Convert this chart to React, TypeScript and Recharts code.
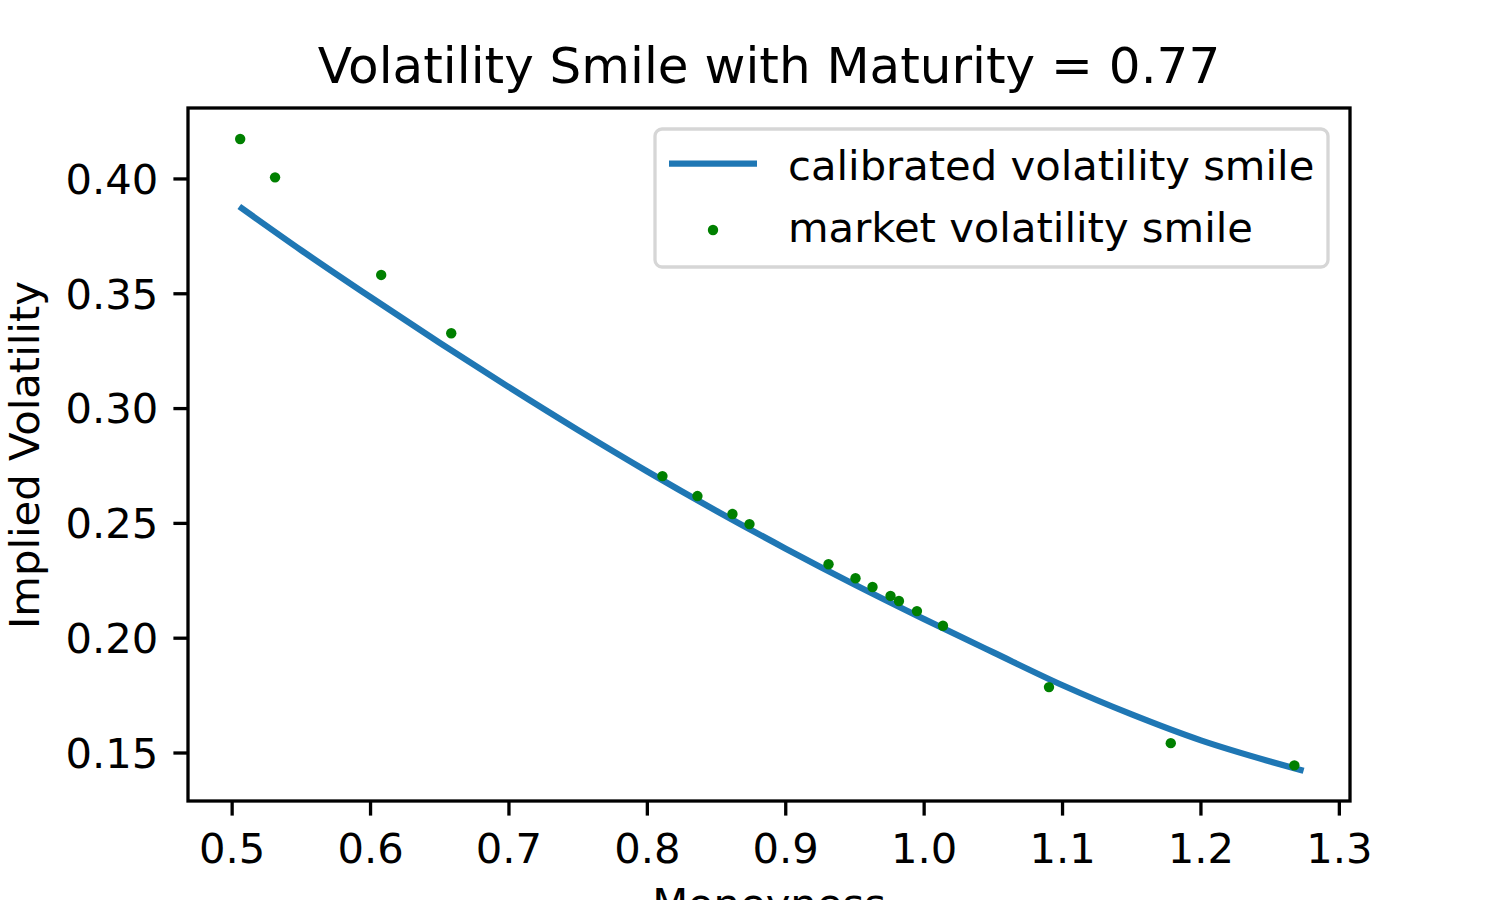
import { ComposedChart, Line, Scatter, XAxis, YAxis } from "recharts";

// market quotes (moneyness, implied vol)
const moneyness = [0.5058, 0.531, 0.6077, 0.6583, 0.8109, 0.8362, 0.8615, 0.8738, 0.9309, 0.9504, 0.9627, 0.9757, 0.9818, 0.9948, 1.0136, 1.0902, 1.1782, 1.2675];
const marketVol = [0.4174, 0.4007, 0.3582, 0.3328, 0.2706, 0.2619, 0.2541, 0.2497, 0.2322, 0.2261, 0.2223, 0.2184, 0.2162, 0.2118, 0.2054, 0.1787, 0.1543, 0.1446];

// calibrated smile
const curveMoneyness = [0.507, 0.55, 0.6, 0.65, 0.7, 0.75, 0.8, 0.85, 0.9, 0.95, 1.0, 1.05, 1.1, 1.15, 1.2, 1.25, 1.272];
const curveVol = [0.3872, 0.3689, 0.3485, 0.3286, 0.3093, 0.2906, 0.2726, 0.2554, 0.239, 0.2233, 0.2083, 0.1938, 0.1795, 0.1668, 0.1555, 0.1463, 0.1426];

const xTicks = [0.5, 0.6, 0.7, 0.8, 0.9, 1.0, 1.1, 1.2, 1.3];
const yTicks = [0.15, 0.2, 0.25, 0.3, 0.35, 0.4];

const marketData = moneyness.map((x, i) => ({ x, y: marketVol[i] }));
const curveData = curveMoneyness.map((x, i) => ({ x, y: curveVol[i] }));

const FONT = "'DejaVu Sans', sans-serif";
const FS = 41.7;
const tickStyle = { fill: "#000", fontSize: FS, fontFamily: FONT };

const Dot = (p: any) => <circle cx={p.cx} cy={p.cy} r={5.2} fill="#008000" />;

export default function App() {
  return (
    <div style={{ position: "absolute", left: 0, top: 0, width: 1500, height: 900, background: "#fff", overflow: "hidden" }}>
      <ComposedChart width={1500} height={900} margin={{ top: 108, right: 150, bottom: 0, left: 0 }}>
        <XAxis
          type="number"
          dataKey="x"
          domain={[0.4681, 1.3077]}
          ticks={xTicks}
          allowDataOverflow
          height={99}
          axisLine={false}
          tickLine={{ stroke: "#000", strokeWidth: 3.3 }}
          tickSize={14.6}
          tickMargin={18}
          tick={tickStyle}
          tickFormatter={(v: number) => v.toFixed(1)}
          interval={0}
        />
        <YAxis
          type="number"
          dataKey="y"
          domain={[0.1291, 0.4309]}
          ticks={yTicks}
          allowDataOverflow
          width={188}
          axisLine={false}
          tickLine={{ stroke: "#000", strokeWidth: 3.3 }}
          tickSize={14.6}
          tickMargin={15}
          tick={tickStyle}
          tickFormatter={(v: number) => v.toFixed(2)}
          interval={0}
        />
        <Line
          data={curveData}
          dataKey="y"
          type="monotone"
          stroke="#1f77b4"
          strokeWidth={6.25}
          strokeLinecap="square"
          dot={false}
          activeDot={false}
          isAnimationActive={false}
        />
        <Scatter data={marketData} dataKey="y" fill="#008000" shape={Dot} isAnimationActive={false} />
      </ComposedChart>
      <svg width={1500} height={900} style={{ position: "absolute", left: 0, top: 0, pointerEvents: "none" }}>
        <rect x={188} y={108} width={1162} height={693} fill="none" stroke="#000" strokeWidth={3.3} />
        <text x={769} y={83.3} textAnchor="middle" fontFamily={FONT} fontSize={50} fill="#000">
          Volatility Smile with Maturity = 0.77
        </text>
        <text x={769} y={918} textAnchor="middle" fontFamily={FONT} fontSize={FS} fill="#000">
          Moneyness
        </text>
        <text x={39} y={455} transform="rotate(-90 39 455)" textAnchor="middle" fontFamily={FONT} fontSize={FS} fill="#000">
          Implied Volatility
        </text>
        <rect x={655} y={129} width={673} height={138} rx={7} fill="#fff" fillOpacity={0.8} stroke="#d6d6d6" strokeWidth={3.3} />
        <line x1={669} y1={163.5} x2={757} y2={163.5} stroke="#1f77b4" strokeWidth={6.25} />
        <text x={788} y={179.5} fontFamily={FONT} fontSize={FS} fill="#000">calibrated volatility smile</text>
        <circle cx={713} cy={230} r={5.2} fill="#008000" />
        <text x={788} y={241.5} fontFamily={FONT} fontSize={FS} fill="#000">market volatility smile</text>
      </svg>
    </div>
  );
}
